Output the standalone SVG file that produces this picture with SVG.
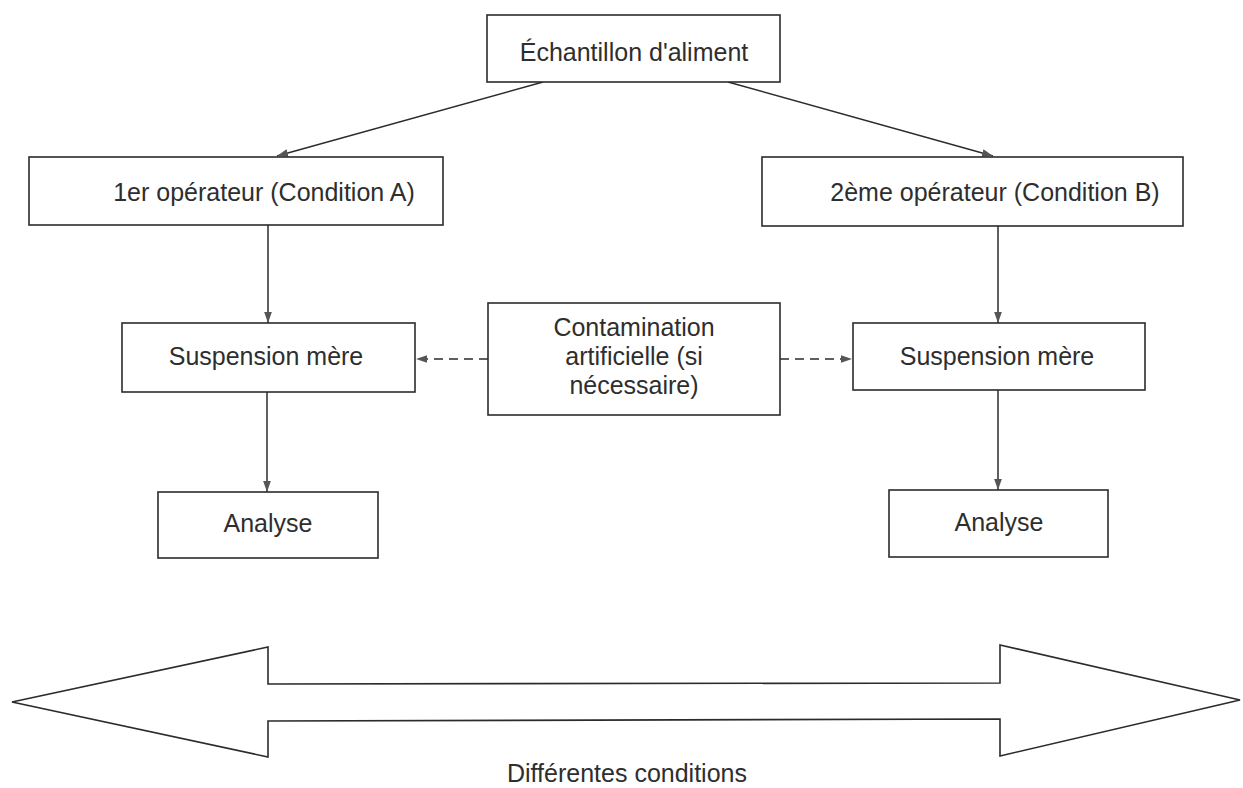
<svg xmlns="http://www.w3.org/2000/svg" width="1243" height="788" viewBox="0 0 1243 788">
<defs>
<style>
.box{fill:#fff;stroke:#2b2b2b;stroke-width:1.6}
.t{font-family:"Liberation Sans",Arial,sans-serif;font-size:25px;fill:#2e2e2e;text-anchor:middle}
.c{stroke:#2b2b2b;stroke-width:1.5;fill:none}
.d{stroke:#2b2b2b;stroke-width:1.5;fill:none;stroke-dasharray:9,6}
</style>
<marker id="ah" viewBox="0 0 10 10" refX="10" refY="5" markerWidth="11" markerHeight="11" markerUnits="userSpaceOnUse" orient="auto">
<path d="M0,1.5 L10,5 L0,8.5 Z" fill="#555"/>
</marker>
</defs>
<rect width="1243" height="788" fill="#fff"/>
<g id="connectors">
<line class="c" x1="543" y1="82" x2="277" y2="156" marker-end="url(#ah)"/>
<line class="c" x1="728" y1="82" x2="993" y2="156" marker-end="url(#ah)"/>
<line class="c" x1="268" y1="225" x2="268" y2="323" marker-end="url(#ah)"/>
<line class="c" x1="998" y1="226" x2="998" y2="323" marker-end="url(#ah)"/>
<line class="c" x1="267" y1="392" x2="267" y2="492" marker-end="url(#ah)"/>
<line class="c" x1="998" y1="390" x2="998" y2="490" marker-end="url(#ah)"/>
<line class="d" x1="488" y1="359" x2="416" y2="359" marker-end="url(#ah)"/>
<line class="d" x1="780" y1="359" x2="852" y2="359" marker-end="url(#ah)"/>
</g>
<g id="n-echantillon">
<rect class="box" x="487" y="15" width="293" height="67"/>
<text class="t" x="634" y="61">Échantillon d'aliment</text>
</g>
<g id="n-op1">
<rect class="box" x="29" y="157" width="414" height="68"/>
<text class="t" x="264" y="201">1er opérateur (Condition A)</text>
</g>
<g id="n-op2">
<rect class="box" x="762" y="157" width="421" height="69"/>
<text class="t" x="995" y="201">2ème opérateur (Condition B)</text>
</g>
<g id="n-susp1">
<rect class="box" x="122" y="323" width="293" height="69"/>
<text class="t" x="266" y="365">Suspension mère</text>
</g>
<g id="n-contam">
<rect class="box" x="488" y="303" width="292" height="112"/>
<text class="t" x="634" y="336">Contamination</text>
<text class="t" x="634" y="365">artificielle (si</text>
<text class="t" x="634" y="394">nécessaire)</text>
</g>
<g id="n-susp2">
<rect class="box" x="853" y="323" width="292" height="67"/>
<text class="t" x="997" y="365">Suspension mère</text>
</g>
<g id="n-analyse1">
<rect class="box" x="158" y="492" width="220" height="66"/>
<text class="t" x="268" y="532">Analyse</text>
</g>
<g id="n-analyse2">
<rect class="box" x="889" y="490" width="219" height="67"/>
<text class="t" x="999" y="531">Analyse</text>
</g>
<g id="n-conditions">
<polygon class="box" points="12,702 268,647 268,684 1000,683 1000,645 1240,700 1000,756 1000,719 268,721 268,757"/>
<text class="t" x="627" y="782">Différentes conditions</text>
</g>
</svg>
